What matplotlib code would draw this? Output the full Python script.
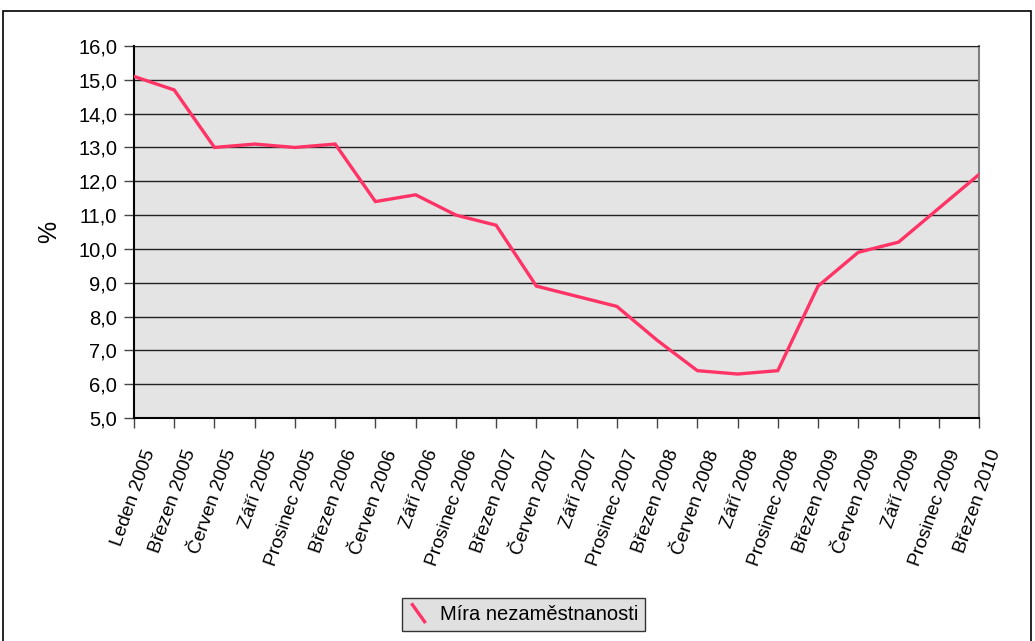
import numpy as np
import matplotlib
matplotlib.use("Agg")
from matplotlib import pyplot as plt
from matplotlib.lines import Line2D
from matplotlib.patches import Rectangle
from matplotlib.legend_handler import HandlerBase
from matplotlib.transforms import ScaledTranslation

plt.rcParams['font.family'] = ['Liberation Sans', 'DejaVu Sans']

### Data ###
months = ["Leden 2005", "Březen 2005", "Červen 2005", "Září 2005", "Prosinec 2005",
          "Březen 2006", "Červen 2006", "Září 2006", "Prosinec 2006",
          "Březen 2007", "Červen 2007", "Září 2007", "Prosinec 2007",
          "Březen 2008", "Červen 2008", "Září 2008", "Prosinec 2008",
          "Březen 2009", "Červen 2009", "Září 2009", "Prosinec 2009",
          "Březen 2010"]
rate = [15.1, 14.7, 13.0, 13.1, 13.0, 13.1, 11.4, 11.6, 11.0, 10.7, 8.9, 8.6,
        8.3, 7.3, 6.4, 6.3, 6.4, 8.9, 9.9, 10.2, 11.2, 12.2]
yticks = np.arange(5, 17, 1)
series_name = "Míra nezaměstnanosti"
line_color = "#FF3366"


class DiagonalHandler(HandlerBase):
    # legend key drawn as a short diagonal stroke
    def create_artists(self, legend, orig, xdescent, ydescent, width, height, fontsize, trans):
        l = Line2D([0.1 * width, 0.8 * width], [1.2 * height, -0.2 * height],
                   color=orig.get_color(), lw=orig.get_linewidth(), solid_capstyle='butt')
        l.set_transform(trans)
        return [l]


fig = plt.figure(figsize=(10.35, 6.41), dpi=100)
fig.patches.append(Rectangle((3 / 1035, -0.05), 1028 / 1035, 1.05 - 11 / 641,
                             transform=fig.transFigure, fill=False, edgecolor='black', lw=1.2))

ax = fig.add_axes([134 / 1035, 1 - 418 / 641, 845 / 1035, 372 / 641])
ax.set_facecolor("#E4E4E4")

x = np.arange(len(months))
line, = ax.plot(x, rate, color=line_color, lw=2.4, solid_joinstyle='miter', zorder=3)

ax.set_xlim(0, len(months) - 1)
ax.set_ylim(5, 16)
ax.set_yticks(yticks)
ax.set_yticklabels([f"{v:.1f}".replace(".", ",") for v in yticks], fontsize=14.5)
ax.set_xticks(x)
ax.set_xticklabels(months, rotation=70.5, ha='right', rotation_mode='anchor', fontsize=13.8)
ax.tick_params(axis='x', length=7.2, width=1, color='#444444', pad=4)
ax.tick_params(axis='y', length=7.2, width=1, color='#444444', pad=5)
# nudge the rotated month labels right/down, as in the original
shift = ScaledTranslation(0.09, -0.14, fig.dpi_scale_trans)
for lab in ax.get_xticklabels():
    lab.set_transform(lab.get_transform() + shift)
ax.grid(axis='y', color='#222222', lw=1)
ax.set_axisbelow(True)
ax.set_ylabel("%", fontsize=18, labelpad=12)

for s in ['left', 'bottom']:
    ax.spines[s].set_color('black')
    ax.spines[s].set_linewidth(1.5)
ax.spines['top'].set_color('#222222')
ax.spines['right'].set_color('#808080')
ax.spines['right'].set_linewidth(1.5)

leg = fig.legend([line], [series_name], loc='center', bbox_to_anchor=(0.506, 0.041),
                 handler_map={line: DiagonalHandler()}, fontsize=14.5, fancybox=False,
                 framealpha=1, facecolor='#E0E0E0', edgecolor='#333333',
                 handlelength=1.0, handletextpad=0.5, borderpad=0.35)
leg.get_frame().set_linewidth(1)

fig.savefig("out.png", dpi=100)
